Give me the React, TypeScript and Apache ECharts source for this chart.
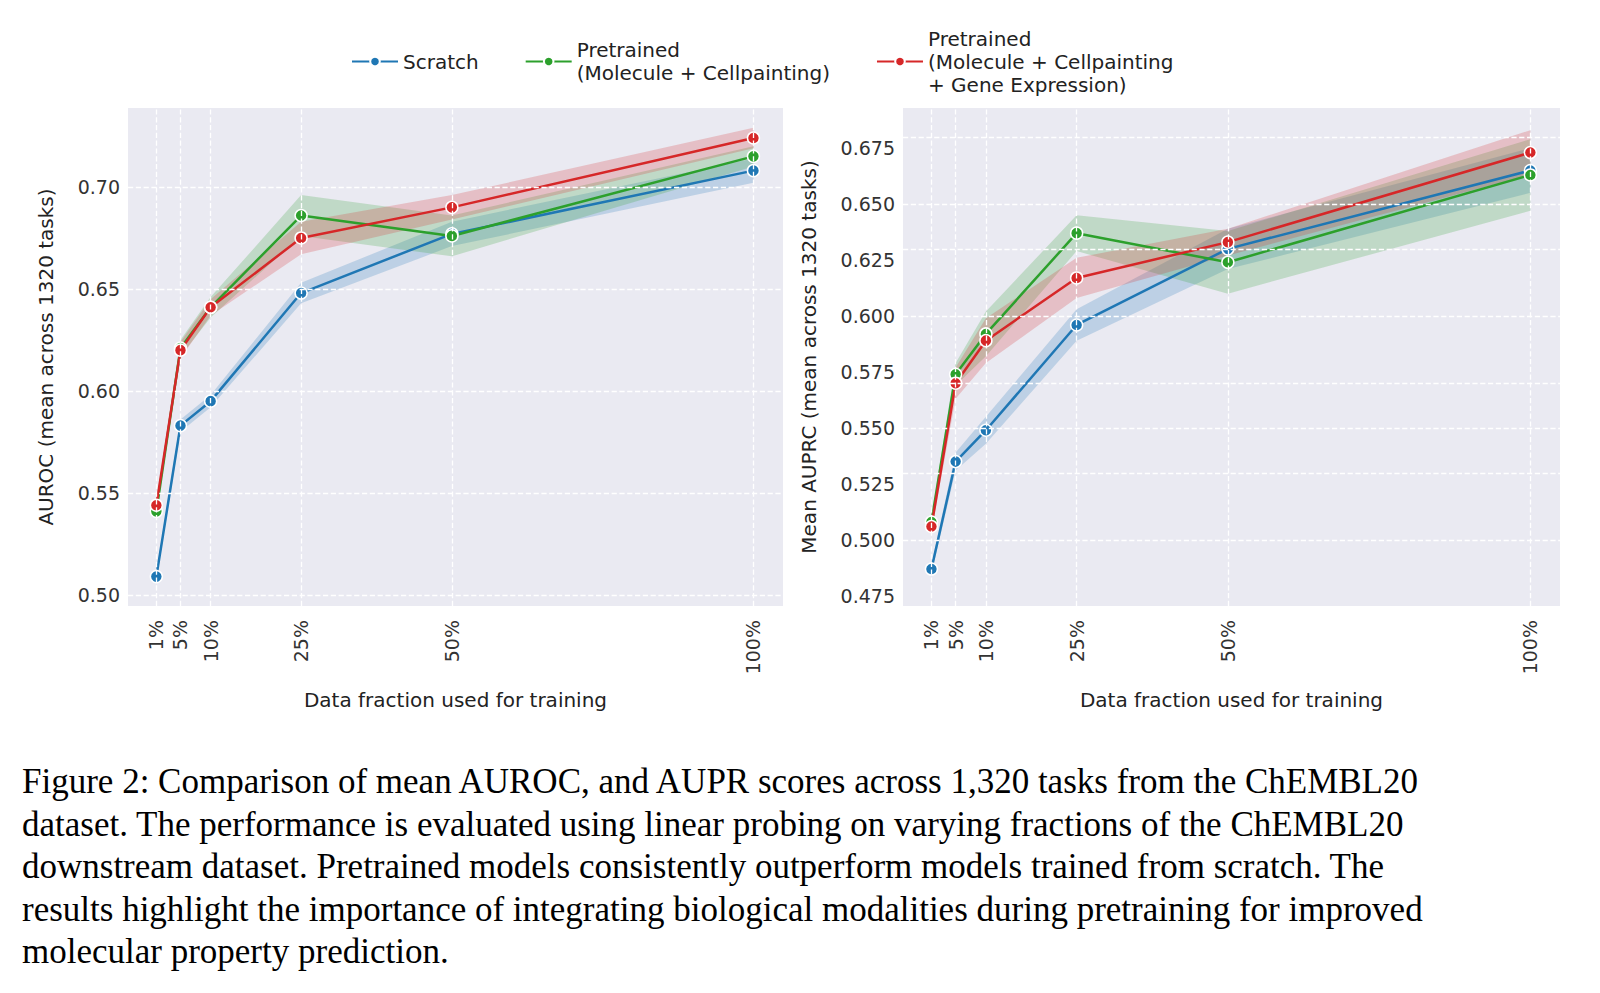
import React, { useEffect, useRef } from "react";
import * as echarts from "echarts";

const fractions = [1, 5, 10, 25, 50, 100];
const tickLabels = ["1%", "5%", "10%", "25%", "50%", "100%"];
const seriesNames = ["Scratch", "Pretrained\n(Molecule + Cellpainting)", "Pretrained\n(Molecule + Cellpainting\n+ Gene Expression)"];
const colors = ["#1f77b4", "#2ca02c", "#d62728"];

const aurocScratch = [0.509, 0.583, 0.595, 0.648, 0.677, 0.708];
const aurocMC = [0.541, 0.621, 0.641, 0.686, 0.676, 0.715];
const aurocMCG = [0.544, 0.620, 0.641, 0.675, 0.690, 0.724];
const aurocScratchErr = [0.002, 0.003, 0.003, 0.005, 0.006, 0.006];
const aurocMCErr = [0.002, 0.004, 0.005, 0.010, 0.010, 0.005];
const aurocMCGErr = [0.002, 0.004, 0.004, 0.008, 0.006, 0.005];

const auprScratch = [0.487, 0.535, 0.549, 0.596, 0.630, 0.665];
const auprMC = [0.508, 0.574, 0.592, 0.637, 0.624, 0.663];
const auprMCG = [0.506, 0.570, 0.589, 0.617, 0.633, 0.673];
const auprScratchErr = [0.002, 0.004, 0.006, 0.007, 0.009, 0.010];
const auprMCErr = [0.002, 0.005, 0.010, 0.008, 0.014, 0.016];
const auprMCGErr = [0.002, 0.007, 0.010, 0.009, 0.006, 0.010];

const caption = [
  "Figure 2: Comparison of mean AUROC, and AUPR scores across 1,320 tasks from the ChEMBL20",
  "dataset. The performance is evaluated using linear probing on varying fractions of the ChEMBL20",
  "downstream dataset. Pretrained models consistently outperform models trained from scratch. The",
  "results highlight the importance of integrating biological modalities during pretraining for improved",
  "molecular property prediction.",
];

export default function App() {
  const ref = useRef<HTMLDivElement>(null);
  useEffect(() => {
    const chart = echarts.init(ref.current!, null, { renderer: "svg" });
    const panels = [
      { vals: [aurocScratch, aurocMC, aurocMCG], errs: [aurocScratchErr, aurocMCErr, aurocMCGErr], min: 0.4946, max: 0.7387, interval: 0.05, name: "AUROC (mean across 1320 tasks)", dec: 2 },
      { vals: [auprScratch, auprMC, auprMCG], errs: [auprScratchErr, auprMCErr, auprMCGErr], min: 0.4705, max: 0.6929, interval: 0.025, name: "Mean AUPRC (mean across 1320 tasks)", dec: 3 },
    ];
    const grids = [
      { left: 120, top: 100, width: 655, height: 498 },
      { left: 895, top: 100, width: 657, height: 498 },
    ];
    const xAxis: any[] = [], yAxis: any[] = [], series: any[] = [];
    panels.forEach((p, pi) => {
      xAxis.push({
        type: "value", gridIndex: pi, min: -3.7, max: 104.9,
        name: "Data fraction used for training", nameLocation: "middle", nameGap: 84,
        nameTextStyle: { fontSize: 20, color: "#222" },
        axisLine: { show: false }, axisTick: { show: false }, splitLine: { show: false },
        axisLabel: { customValues: fractions, rotate: 90, fontSize: 19, color: "#333", margin: 14,
          formatter: (v: number) => tickLabels[fractions.indexOf(v)] ?? "" },
      });
      const start = Math.ceil(p.min / p.interval) * p.interval;
      const ticks: number[] = [];
      for (let v = start; v <= p.max + 1e-9; v += p.interval) ticks.push(+v.toFixed(4));
      yAxis.push({
        type: "value", gridIndex: pi, min: p.min, max: p.max,
        name: p.name, nameLocation: "middle", nameGap: pi === 0 ? 72 : 84,
        nameTextStyle: { fontSize: 20, color: "#222" },
        axisLine: { show: false }, axisTick: { show: false },
        axisLabel: { customValues: ticks, fontSize: 19, color: "#333", formatter: (v: number) => v.toFixed(p.dec) },
        splitLine: { show: false },
      });
      series.push({
        type: "line", xAxisIndex: pi, yAxisIndex: pi, data: [], silent: true,
        markLine: {
          silent: true, symbol: "none", label: { show: false },
          lineStyle: { color: "#fff", type: "dashed", width: 1.3 },
          data: [...fractions.map((f) => ({ xAxis: f })), ...ticks.map((t) => ({ yAxis: t }))],
        },
      });
      p.vals.forEach((vals, si) => {
        const err = p.errs[si];
        const bandData = fractions.map((f, i) => [f, vals[i] - err[i], vals[i] + err[i]]);
        series.push({
          type: "custom", xAxisIndex: pi, yAxisIndex: pi, silent: true,
          data: [bandData[0]],
          renderItem: (_params: any, api: any) => {
            const upper = bandData.map((d) => api.coord([d[0], d[2]]));
            const lower = bandData.map((d) => api.coord([d[0], d[1]])).reverse();
            return {
              type: "polygon",
              shape: { points: [...upper, ...lower] },
              style: { fill: colors[si], opacity: 0.22 },
            };
          },
        });
      });
      p.vals.forEach((vals, si) => {
        series.push({
          name: seriesNames[si], type: "line", xAxisIndex: pi, yAxisIndex: pi,
          symbol: "circle", symbolSize: 12, color: colors[si],
          lineStyle: { width: 2.5, color: colors[si] },
          itemStyle: { color: colors[si], borderColor: "#fff", borderWidth: 1.5 },
          data: fractions.map((f, i) => [f, vals[i]]),
        });
      });
    });
    chart.setOption({
      animation: false,
      backgroundColor: "#fff",
      textStyle: { fontFamily: "DejaVu Sans" },
      grid: grids.map((g) => ({ ...g, show: true, backgroundColor: "#EAEAF2", borderWidth: 0 })),
      legend: {
        top: 14, left: 338, data: seriesNames, itemWidth: 46, itemHeight: 12, itemGap: 46,
        textStyle: { fontSize: 20, color: "#222", lineHeight: 23 },
      },
      xAxis, yAxis, series,
      graphic: caption.map((c, i) => ({
        type: "text", left: 14, top: 756 + i * 42.5,
        style: { text: c, fontFamily: "Liberation Serif", fontSize: 35, fill: "#000" },
      })),
    });
    return () => chart.dispose();
  }, []);
  return <div ref={ref} style={{ width: 1584, height: 977 }} />;
}
